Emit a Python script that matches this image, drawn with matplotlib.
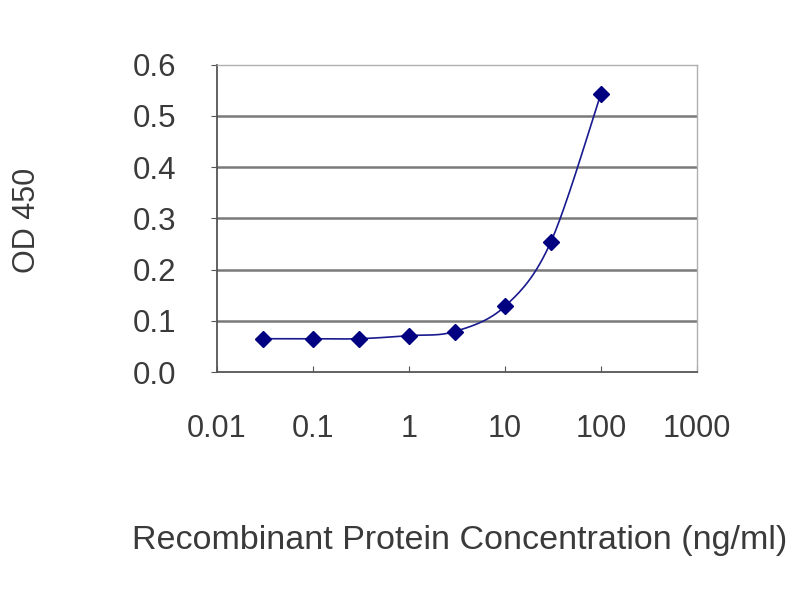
import numpy as np
import matplotlib
matplotlib.use("Agg")
import matplotlib.pyplot as plt

plt.rcParams['font.family'] = ['Liberation Sans', 'DejaVu Sans']

conc = [0.03, 0.1, 0.3, 1, 3, 10, 30, 100]   # ng/ml
od450 = [0.065, 0.065, 0.065, 0.071, 0.079, 0.128, 0.253, 0.543]

xticks = [0.01, 0.1, 1, 10, 100, 1000]
xtick_labels = ["0.01", "0.1", "1", "10", "100", "1000"]
yticks = [0.0, 0.1, 0.2, 0.3, 0.4, 0.5, 0.6]

navy = "#000080"
txt = "#3a3a3a"


# courbe lissée type Excel (Catmull-Rom en log x)
def lisse(xs, ys, n=30):
    lx = np.log10(xs)
    y = np.asarray(ys, float)
    P = np.column_stack([lx, y])
    P = np.vstack([P[0], P, P[-1]])
    out = []
    for i in range(1, len(P) - 2):
        p0, p1, p2, p3 = P[i - 1], P[i], P[i + 1], P[i + 2]
        t = np.linspace(0, 1, n)[:, None]
        seg = 0.5 * ((2 * p1) + (-p0 + p2) * t + (2 * p0 - 5 * p1 + 4 * p2 - p3) * t**2
                     + (-p0 + 3 * p1 - 3 * p2 + p3) * t**3)
        out.append(seg)
    out = np.vstack(out)
    return 10 ** out[:, 0], out[:, 1]


fig = plt.figure(figsize=(8, 6), dpi=100)
ax = fig.add_axes([0.271, 0.38, 0.6, 0.512])

for yv in yticks[1:-1]:
    ax.axhline(yv, color="#7a7a7a", lw=1.8, zorder=1)

sx, sy = lisse(conc, od450)
ax.plot(sx, sy, color="#1a1a90", lw=1.2, zorder=3)
ax.plot(conc, od450, linestyle="none", marker="D", markersize=8.5, color=navy, zorder=4)

ax.set_xscale("log")
ax.set_xlim(0.01, 1000)
ax.set_ylim(0, 0.6)
ax.set_xticks(xticks)
ax.set_xticklabels(xtick_labels)
ax.xaxis.set_minor_locator(matplotlib.ticker.NullLocator())
ax.set_yticks(yticks)
ax.set_yticklabels([f"{v:.1f}" for v in yticks])

ax.tick_params(axis="x", direction="in", length=4, color="#555555", labelsize=22,
               labelcolor=txt, pad=30)
ax.tick_params(axis="y", direction="out", length=4, color="#555555", labelsize=22.5,
               labelcolor=txt, pad=25)

for s in ["left", "bottom"]:
    ax.spines[s].set_color("#555555")
    ax.spines[s].set_linewidth(1.3)
for s in ["top", "right"]:
    ax.spines[s].set_color("#b0b0b0")
    ax.spines[s].set_linewidth(1.0)

fig.text(0.574, 0.10, "Recombinant Protein Concentration (ng/ml)", ha="center", va="center",
         fontsize=24.5, color=txt)
fig.text(0.034, 0.632, "OD 450", rotation=90, ha="center", va="center",
         fontsize=22, color=txt)

fig.savefig("out.png", dpi=100)
